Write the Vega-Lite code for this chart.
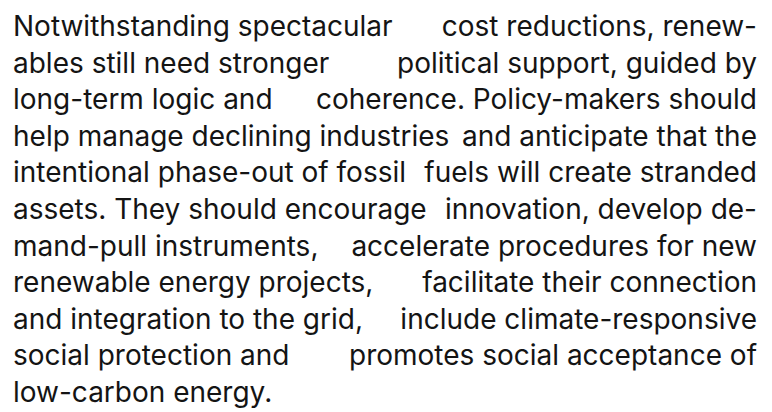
{
  "$schema": "https://vega.github.io/schema/vega-lite/v6.json",
  "width": 744,
  "height": 412,
  "autosize": {"type": "none"},
  "padding": {"left": 13, "right": 15, "top": 0, "bottom": 0},
  "background": "white",
  "config": {"view": {"stroke": null}},
  "data": {"values": [
    {"line": 1, "part": "start", "text": "Notwithstanding spectacular"},
    {"line": 1, "part": "end", "text": "cost reductions, renew-"},
    {"line": 2, "part": "start", "text": "ables still need stronger"},
    {"line": 2, "part": "end", "text": "political support, guided by"},
    {"line": 3, "part": "start", "text": "long-term logic and"},
    {"line": 3, "part": "end", "text": "coherence. Policy-makers should"},
    {"line": 4, "part": "start", "text": "help manage declining industries"},
    {"line": 4, "part": "end", "text": "and anticipate that the"},
    {"line": 5, "part": "start", "text": "intentional phase-out of fossil"},
    {"line": 5, "part": "end", "text": "fuels will create stranded"},
    {"line": 6, "part": "start", "text": "assets. They should encourage"},
    {"line": 6, "part": "end", "text": "innovation, develop de-"},
    {"line": 7, "part": "start", "text": "mand-pull instruments,"},
    {"line": 7, "part": "end", "text": "accelerate procedures for new"},
    {"line": 8, "part": "start", "text": "renewable energy projects,"},
    {"line": 8, "part": "end", "text": "facilitate their connection"},
    {"line": 9, "part": "start", "text": "and integration to the grid,"},
    {"line": 9, "part": "end", "text": "include climate-responsive"},
    {"line": 10, "part": "start", "text": "social protection and"},
    {"line": 10, "part": "end", "text": "promotes social acceptance of"},
    {"line": 11, "part": "start", "text": "low-carbon energy."}
  ]},
  "encoding": {
    "y": {"field": "line", "type": "quantitative", "scale": {"domain": [1, 11], "range": [36, 402]}, "axis": null},
    "text": {"field": "text"}
  },
  "layer": [
    {
      "transform": [{"filter": "datum.part === 'start'"}],
      "mark": {"type": "text", "align": "left", "baseline": "alphabetic", "font": "Inter", "fontSize": 28, "color": "#141414"},
      "encoding": {"x": {"value": 0}}
    },
    {
      "transform": [{"filter": "datum.part === 'end'"}],
      "mark": {"type": "text", "align": "right", "baseline": "alphabetic", "font": "Inter", "fontSize": 28, "color": "#141414"},
      "encoding": {"x": {"value": "width"}}
    }
  ]
}
